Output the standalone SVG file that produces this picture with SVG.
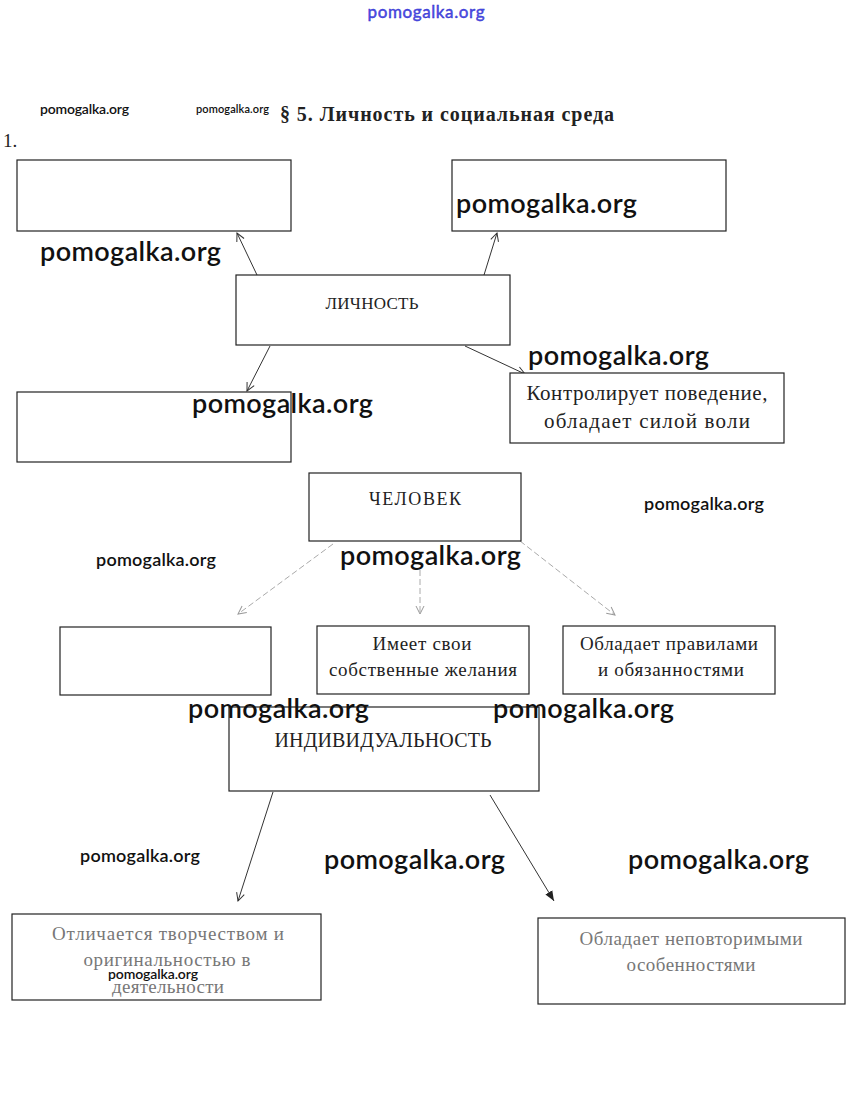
<svg xmlns="http://www.w3.org/2000/svg" width="851" height="1109" viewBox="0 0 851 1109">
<style>
.box{fill:#fff;stroke:#222;stroke-width:1.2}
.t{font-family:"Liberation Serif","Times New Roman",serif;fill:#222;text-anchor:middle}
.faint{fill:#777}
.wm{font-family:Lato,"Open Sans",sans-serif;font-weight:600;fill:#111}
.c{stroke:#333;stroke-width:1;fill:none;marker-end:url(#ah)}
.cd{stroke:#aaa;stroke-width:1;fill:none;stroke-dasharray:6 3;marker-end:url(#ahg)}
</style>
<defs>
<marker id="ah" markerWidth="10" markerHeight="10" refX="9" refY="5" orient="auto" markerUnits="userSpaceOnUse">
<path d="M1,1 L9,5 L1,9" fill="none" stroke="#333" stroke-width="1"/>
</marker>
<marker id="ahg" markerWidth="10" markerHeight="10" refX="9" refY="5" orient="auto" markerUnits="userSpaceOnUse">
<path d="M1,1 L9,5 L1,9" fill="none" stroke="#999" stroke-width="1"/>
</marker>
<marker id="ahf" markerWidth="12" markerHeight="12" refX="10" refY="5" orient="auto" markerUnits="userSpaceOnUse">
<path d="M0,1 L10,5 L0,9 Z" fill="#222"/>
</marker>
</defs>
<rect width="851" height="1109" fill="#fff"/>

<text x="426" y="18" text-anchor="middle" font-family="Lato,'Open Sans',sans-serif" font-size="17" fill="#5050e8" stroke="#2828c8" stroke-width="0.4" textLength="117">pomogalka.org</text>

<text x="280" y="121" font-family="'Liberation Serif','Times New Roman',serif" font-weight="bold" font-size="20" fill="#222" textLength="334">§ 5. Личность и социальная среда</text>
<text x="3" y="147" font-family="'Liberation Serif','Times New Roman',serif" font-size="19" fill="#222">1.</text>

<g id="connectors">
<line class="c" x1="257" y1="275" x2="237" y2="233"/>
<line class="c" x1="484" y1="275" x2="497" y2="233"/>
<line class="c" x1="270" y1="346" x2="247" y2="391"/>
<line class="c" x1="465" y1="346" x2="525" y2="374"/>
<line class="cd" x1="333" y1="544" x2="238" y2="614"/>
<line class="cd" x1="420" y1="570" x2="420" y2="614"/>
<line class="cd" x1="520" y1="541" x2="615" y2="615"/>
<line class="c" x1="273" y1="792" x2="238" y2="901"/>
<line x1="490" y1="795" x2="554" y2="901" stroke="#333" stroke-width="1" marker-end="url(#ahf)"/>
</g>

<g id="n_tl"><rect class="box" x="17" y="160" width="274" height="71"/></g>
<g id="n_tr"><rect class="box" x="452" y="160" width="274" height="71"/></g>
<g id="n_lichnost"><rect class="box" x="236" y="275" width="274" height="70"/>
<text class="t" x="372" y="309" font-size="17" textLength="93">ЛИЧНОСТЬ</text></g>
<g id="n_bl"><rect class="box" x="17" y="392" width="274" height="70"/></g>
<g id="n_control"><rect class="box" x="510" y="373" width="274" height="70"/>
<text class="t" x="647" y="400" font-size="21" textLength="241">Контролирует поведение,</text>
<text class="t" x="647" y="428" font-size="21" textLength="206">обладает силой воли</text></g>

<g id="n_chelovek"><rect class="box" x="309" y="473" width="212" height="68"/>
<text class="t" x="415" y="505" font-size="18" textLength="92">ЧЕЛОВЕК</text></g>
<g id="n_empty2"><rect class="box" x="60" y="627" width="211" height="68"/></g>
<g id="n_imeet"><rect class="box" x="317" y="626" width="212" height="68"/>
<text class="t" x="422" y="650" font-size="19" textLength="99">Имеет свои</text>
<text class="t" x="423" y="676" font-size="19" textLength="188">собственные  желания</text></g>
<g id="n_pravila"><rect class="box" x="563" y="626" width="212" height="68"/>
<text class="t" x="669" y="650" font-size="19" textLength="178">Обладает правилами</text>
<text class="t" x="671" y="676" font-size="19" textLength="146">и обязанностями</text></g>

<g id="n_individ"><rect class="box" x="229" y="707" width="310" height="84"/>
<text class="t" x="383" y="747" font-size="20" textLength="217">ИНДИВИДУАЛЬНОСТЬ</text></g>

<g id="n_otlich"><rect class="box" x="12" y="914" width="309" height="86"/>
<text class="t faint" x="168" y="940" font-size="19" textLength="232">Отличается творчеством и</text>
<text class="t faint" x="167" y="966" font-size="19" textLength="167">оригинальностью в</text>
<text class="t faint" x="168" y="993" font-size="19" textLength="112">деятельности</text></g>
<g id="n_osob"><rect class="box" x="538" y="918" width="307" height="86"/>
<text class="t faint" x="691" y="945" font-size="19" textLength="223">Обладает неповторимыми</text>
<text class="t faint" x="691" y="971" font-size="19" textLength="129">особенностями</text></g>

<g id="watermarks">
<text class="wm" x="40" y="114" font-size="14" textLength="89">pomogalka.org</text>
<text class="wm" x="196" y="113" font-size="11" textLength="73">pomogalka.org</text>
<text class="wm" x="40" y="261" font-size="27" textLength="181">pomogalka.org</text>
<text class="wm" x="456" y="213" font-size="27" textLength="181">pomogalka.org</text>
<text class="wm" x="528" y="365" font-size="27" textLength="181">pomogalka.org</text>
<text class="wm" x="192" y="413" font-size="27" textLength="181">pomogalka.org</text>
<text class="wm" x="644" y="510" font-size="18" textLength="120">pomogalka.org</text>
<text class="wm" x="96" y="566" font-size="18" textLength="120">pomogalka.org</text>
<text class="wm" x="340" y="565" font-size="27" textLength="181">pomogalka.org</text>
<text class="wm" x="188" y="718" font-size="27" textLength="181">pomogalka.org</text>
<text class="wm" x="493" y="718" font-size="27" textLength="181">pomogalka.org</text>
<text class="wm" x="80" y="862" font-size="18" textLength="120">pomogalka.org</text>
<text class="wm" x="324" y="869" font-size="27" textLength="181">pomogalka.org</text>
<text class="wm" x="628" y="869" font-size="27" textLength="181">pomogalka.org</text>
<text class="wm" x="108" y="979" font-size="14" textLength="90">pomogalka.org</text>
</g>
</svg>
